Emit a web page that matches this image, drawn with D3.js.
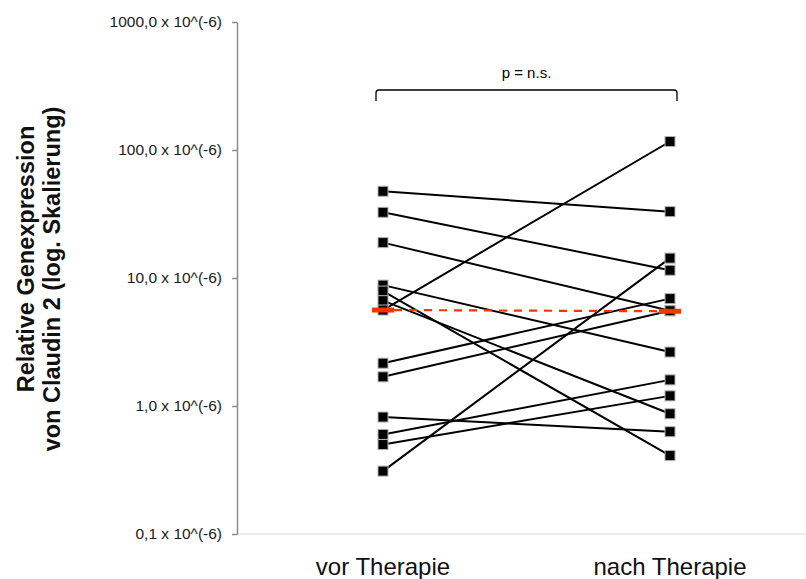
<!DOCTYPE html>
<html><head><meta charset="utf-8">
<script src="https://cdn.jsdelivr.net/npm/d3@7"></script>
<style>body{margin:0;background:#fff}text{font-family:"Liberation Sans",Arial,sans-serif}</style>
</head><body>
<svg id="c" width="806" height="579"></svg>
<script>
const categories = ["vor Therapie", "nach Therapie"];
const before = [47.6, 32.6, 18.9, 8.8, 7.9, 6.65, 5.62, 2.16, 1.69, 0.82, 0.6, 0.5, 0.31];
const after  = [33, 11.5, 5.55, 2.64, 0.41, 0.87, 116.5, 6.9, 5.55, 0.63, 1.6, 1.2, 14.3];
const medians = [5.62, 5.5];
const tickValues = [0.1, 1, 10, 100, 1000];
const tickLabels = ["0,1 x 10^(-6)", "1,0 x 10^(-6)", "10,0 x 10^(-6)", "100,0 x 10^(-6)", "1000,0 x 10^(-6)"];
const pLabel = "p = n.s.";
const yTitle = ["Relative Genexpression", "von Claudin 2 (log. Skalierung)"];

const svg = d3.select("#c");
const y = d3.scaleLog().domain([0.1, 1000]).range([534, 22]);
const x = d3.scalePoint().domain(categories).range([383, 670]);
const axisX = 237;

// x axis baseline
svg.append("line").attr("x1", axisX).attr("x2", 806).attr("y1", y(0.1)).attr("y2", y(0.1))
  .attr("stroke", "#d8d8d8").attr("stroke-width", 1);

// y axis
const ga = svg.append("g").attr("transform", `translate(${axisX},0)`)
  .call(d3.axisLeft(y).tickValues(tickValues).tickFormat((d, i) => tickLabels[i])
    .tickSize(5).tickSizeOuter(0).tickPadding(10));
ga.select(".domain").attr("stroke", "#8c8c8c").attr("stroke-width", 1.5);
ga.selectAll(".tick line").attr("stroke", "#8c8c8c").attr("stroke-width", 1.5);
ga.selectAll(".tick text").attr("font-size", 15.5).attr("fill", "#1a1a1a")
  .style("font-family", '"Liberation Sans",Arial,sans-serif');

// x labels
svg.selectAll(".xl").data(categories).enter().append("text")
  .attr("x", d => x(d)).attr("y", 575).attr("text-anchor", "middle")
  .attr("font-size", 24).attr("fill", "#111").text(d => d);

// y title
const tc = [[34, 259], [60, 279]];
yTitle.forEach((t, i) => {
  svg.append("text").attr("transform", `translate(${tc[i][0]},${tc[i][1]}) rotate(-90)`)
    .attr("text-anchor", "middle").attr("font-size", 23.5).attr("font-weight", "bold")
    .attr("fill", "#111").text(t);
});

// pair lines
const pairs = before.map((b, i) => [b, after[i]]);
svg.selectAll(".pl").data(pairs).enter().append("line")
  .attr("x1", x(categories[0])).attr("x2", x(categories[1]))
  .attr("y1", d => y(d[0])).attr("y2", d => y(d[1]))
  .attr("stroke", "#000").attr("stroke-width", 2);

// markers
const pts = [];
before.forEach(v => pts.push([categories[0], v]));
after.forEach(v => pts.push([categories[1], v]));
svg.selectAll(".pt").data(pts).enter().append("rect")
  .attr("x", d => x(d[0]) - 5).attr("y", d => y(d[1]) - 5)
  .attr("width", 10).attr("height", 10)
  .attr("fill", "#000").attr("stroke", "#b0b0b0").attr("stroke-width", 1);

// medians
const red = "#ff3300";
svg.append("line").attr("x1", x(categories[0]) + 11).attr("x2", x(categories[1]) - 11)
  .attr("y1", y(medians[0])).attr("y2", y(medians[1]))
  .attr("stroke", red).attr("stroke-width", 2.2).attr("stroke-dasharray", "8,7");
svg.selectAll(".md").data(medians).enter().append("rect")
  .attr("x", (d, i) => x(categories[i]) - 11).attr("y", d => y(d) - 2.5)
  .attr("width", 22).attr("height", 5).attr("fill", red);

// bracket
const bx0 = 376, bx1 = 677, by = 90, bh = 11;
svg.append("path")
  .attr("d", `M${bx0},${by + bh} L${bx0},${by + 3} Q${bx0},${by} ${bx0 + 3},${by} L${bx1 - 3},${by} Q${bx1},${by} ${bx1},${by + 3} L${bx1},${by + bh}`)
  .attr("fill", "none").attr("stroke", "#000").attr("stroke-width", 1.3);
svg.append("text").attr("x", (bx0 + bx1) / 2).attr("y", 78).attr("text-anchor", "middle")
  .attr("font-size", 15).attr("fill", "#000").text(pLabel);
</script>
</body></html>
